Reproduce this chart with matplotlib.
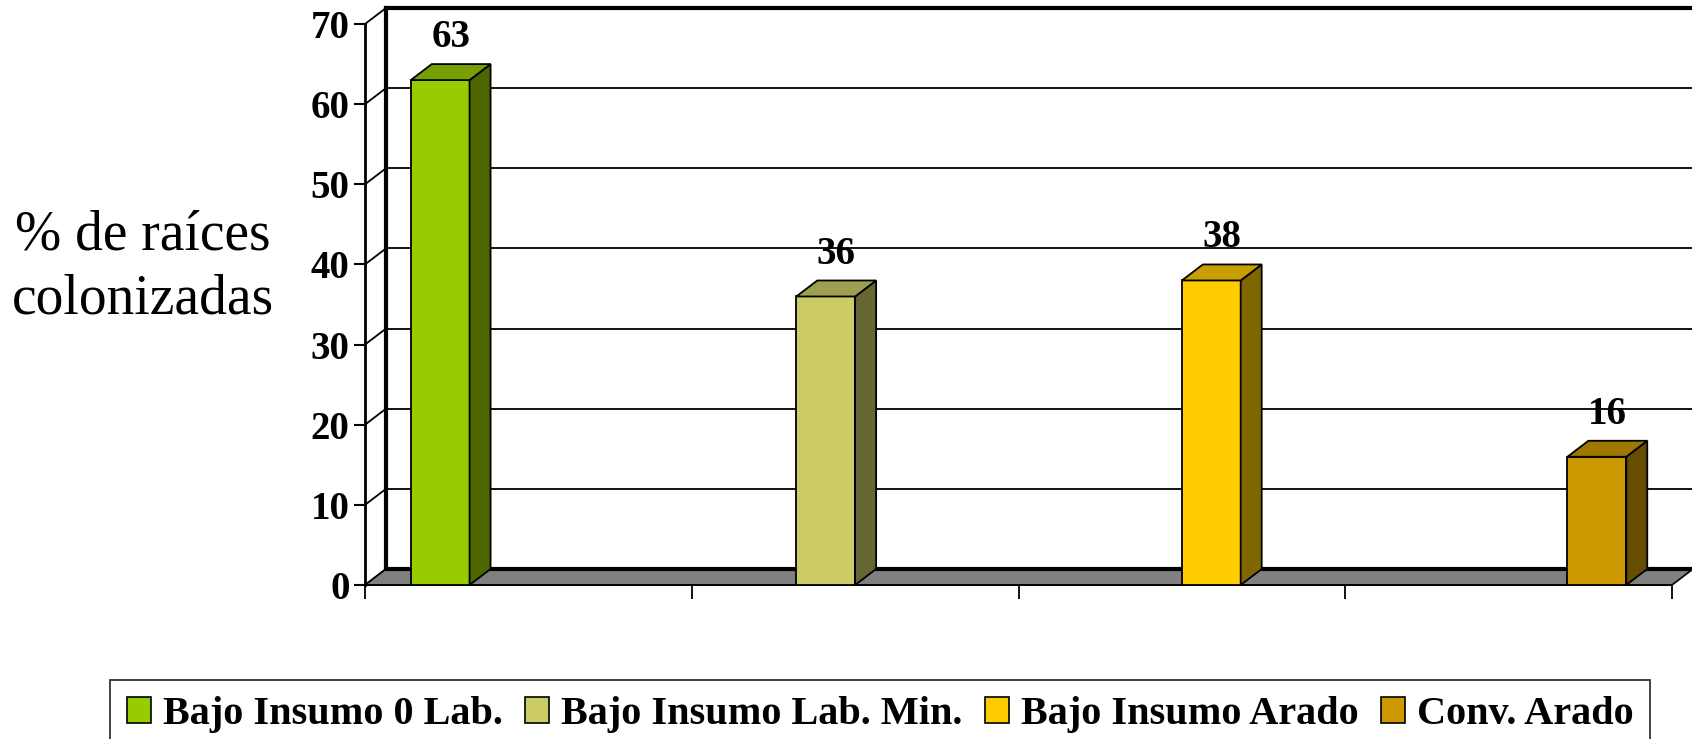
import numpy as np
import matplotlib
matplotlib.use("Agg")
from matplotlib import pyplot as plt
from matplotlib.patches import Polygon, Patch
from matplotlib.colors import to_rgb

series = ["Bajo Insumo 0 Lab.", "Bajo Insumo Lab. Min.", "Bajo Insumo Arado", "Conv. Arado"]
values = [63, 36, 38, 16]
colors = ["#99CC00", "#CCCC66", "#FFCC00", "#CC9900"]
yticks = [0, 10, 20, 30, 40, 50, 60, 70]

plt.rcParams["font.family"] = ["Liberation Serif", "DejaVu Serif"]

W, H = 1692, 739
fig = plt.figure(figsize=(W / 100, H / 100), dpi=100)
# front plane of the 3D box in pixels
x0, x1, yb, yt = 365, 1672, 585, 24
ax = fig.add_axes([x0 / W, 1 - yb / H, (x1 - x0) / W, (yb - yt) / H])
ax.set_xlim(0, 4)
ax.set_ylim(0, 70)

# depth offset in pixels -> data units
dpx, dpy = 21, 16
ux = (x1 - x0) / 4.0
uy = (yb - yt) / 70.0
ddx, ddy = dpx / ux, dpy / uy

def shade(c, f):
    r, g, b = to_rgb(c)
    return (r * f, g * f, b * f)

# floor
floor = Polygon([(0, 0), (4, 0), (4 + ddx, ddy), (ddx, ddy)], closed=True,
                facecolor="#808080", edgecolor="black", lw=1.2, clip_on=False, zorder=1)
ax.add_patch(floor)
ax.plot([ddx, 4 + ddx], [ddy, ddy], color="black", lw=3, clip_on=False, zorder=1.5)

# back wall grid and side wall diagonals
for t in yticks[1:]:
    ax.plot([ddx, 4 + ddx], [t + ddy, t + ddy], color="black", lw=1.3 if t < 70 else 3,
            clip_on=False, zorder=0.5)
for t in yticks:
    ax.plot([0, ddx], [t, t + ddy], color="black", lw=1.3, clip_on=False, zorder=0.5)
ax.plot([ddx, ddx], [ddy, 70 + ddy], color="black", lw=3, clip_on=False, zorder=0.6)
ax.plot([4 + ddx, 4 + ddx], [ddy, 70 + ddy], color="black", lw=1.8, clip_on=False, zorder=0.6)

# bars
xpos = np.linspace(0.23, 3.77, len(values))
bw = 0.18
for x, v, c in zip(xpos, values, colors):
    l, r = x - bw / 2, x + bw / 2
    ax.bar(x, v, width=bw, color=c, edgecolor="black", linewidth=1.3, zorder=3)
    side = Polygon([(r, 0), (r + ddx, ddy), (r + ddx, v + ddy), (r, v)], closed=True,
                   facecolor=shade(c, 0.5), edgecolor="black", lw=1.3, zorder=3, clip_on=False)
    top = Polygon([(l, v), (r, v), (r + ddx, v + ddy), (l + ddx, v + ddy)], closed=True,
                  facecolor=shade(c, 0.78), edgecolor="black", lw=1.3, zorder=3, clip_on=False)
    ax.add_patch(side)
    ax.add_patch(top)
    ax.text(x + ddx / 2, v + 5.3, str(v), ha="center", va="center",
            fontsize=28, fontweight="bold", zorder=4)

# axes styling
for s in ["top", "right"]:
    ax.spines[s].set_visible(False)
ax.spines["left"].set_linewidth(2)
ax.spines["bottom"].set_linewidth(1.2)
ax.spines["left"].set_zorder(5)
ax.set_yticks(yticks)
ax.set_yticklabels([str(t) for t in yticks], fontsize=28, fontweight="bold")
ax.set_xticks([0, 1, 2, 3, 4])
ax.set_xticklabels([])
ax.tick_params(axis="y", direction="out", length=8, width=1.5, pad=3)
ax.tick_params(axis="x", direction="out", length=10, width=1.3)
ax.patch.set_visible(False)

fig.text(143 / W, 1 - 268 / H, "% de raíces\ncolonizadas", ha="center", va="center",
         fontsize=40, linespacing=1.3, multialignment="center")

handles = [Patch(facecolor=c, edgecolor="black", linewidth=1.2) for c in colors]
leg = fig.legend(handles, series, loc="upper center", bbox_to_anchor=(880 / W, 1 - 680 / H),
                 ncol=4, frameon=True, fancybox=False, edgecolor="black",
                 prop={"size": 29, "weight": "bold"}, handlelength=0.6, handleheight=0.6,
                 handletextpad=0.3, columnspacing=0.55, borderpad=0.4, borderaxespad=0)
leg.get_frame().set_linewidth(1.3)

fig.savefig("out.png", dpi=100)
